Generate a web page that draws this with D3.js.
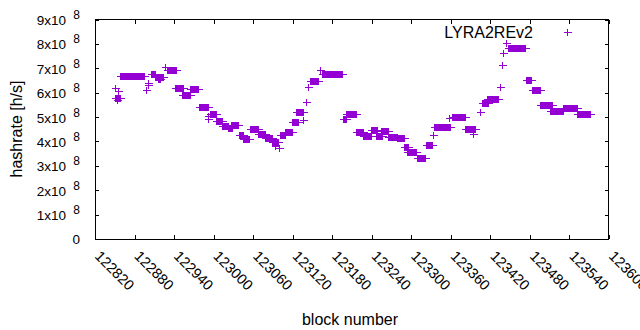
<!DOCTYPE html>
<html>
<head>
<meta charset="utf-8">
<title>hashrate</title>
<script src="https://cdn.jsdelivr.net/npm/d3@7"></script>
<style>
  body { margin: 0; background: #fff; }
  text { font-family: "Liberation Sans", Arial, sans-serif; fill: #000; }
</style>
</head>
<body>
<script>
// runs of blocks with the same estimated hashrate (x10^8 h/s)
var seriesName = "LYRA2REv2";
var runStart = [122850, 122855, 122850, 122853, 122858, 122897, 122900, 122901, 122905, 122911,
                122916, 122926, 122929, 122941, 122952, 122964, 122978, 122991, 122991, 122994,
                123004, 123013, 123022, 123026, 123039, 123045, 123055, 123067, 123078, 123089,
                123093, 123099, 123101, 123108, 123119, 123136, 123125, 123140, 123143, 123146,
                123161, 123164, 123196, 123201, 123216, 123227, 123239, 123246, 123254, 123265,
                123278, 123289, 123293, 123309, 123322, 123333, 123334, 123357, 123362, 123381,
                123394, 123404, 123407, 123415, 123435, 123438, 123439, 123444, 123447, 123474,
                123483, 123495, 123510, 123530, 123551];
var runEnd   = [122850, 122855, 122858, 122853, 122894, 122897, 122900, 122901, 122911, 122923,
                122919, 122926, 122943, 122954, 122964, 122976, 122991, 122991, 122991, 123003,
                123013, 123022, 123028, 123037, 123045, 123054, 123067, 123078, 123089, 123098,
                123093, 123099, 123108, 123119, 123128, 123136, 123136, 123140, 123143, 123158,
                123161, 123195, 123201, 123216, 123227, 123239, 123248, 123256, 123265, 123278,
                123289, 123295, 123307, 123321, 123331, 123333, 123359, 123357, 123381, 123396,
                123394, 123404, 123416, 123432, 123435, 123438, 123439, 123444, 123473, 123482,
                123495, 123513, 123530, 123551, 123571];
var runHash  = [6.19, 6.07, 5.80, 5.70, 6.67, 6.10, 6.30, 6.40, 6.75, 6.65,
                6.56, 7.06, 6.93, 6.18, 5.89, 6.14, 5.40, 5.05, 4.92, 5.12,
                4.85, 4.65, 4.56, 4.66, 4.26, 4.09, 4.50, 4.29, 4.13, 3.99,
                3.80, 3.75, 4.26, 4.37, 4.81, 4.88, 5.19, 5.63, 6.22, 6.48,
                6.93, 6.77, 4.91, 5.11, 4.37, 4.22, 4.47, 4.21, 4.43, 4.17,
                4.13, 3.76, 3.58, 3.31, 3.85, 4.26, 4.59, 4.96, 4.99, 4.50,
                4.29, 5.22, 5.56, 5.73, 6.25, 7.13, 7.64, 8.05, 7.82, 6.52,
                6.11, 5.49, 5.25, 5.36, 5.11];

var xTicks = [122820, 122880, 122940, 123000, 123060, 123120, 123180, 123240, 123300, 123360, 123420, 123480, 123540, 123600];
var yTicks = [0, 1, 2, 3, 4, 5, 6, 7, 8, 9]; // x10^8

var width = 640, height = 330;
var color = '#9400d3';

var svg = d3.select('body')
  .append('svg')
  .attr('width', width)
  .attr('height', height);

var x = d3.scaleLinear().domain([122820, 123600]).range([95, 609]);
var y = d3.scaleLinear().domain([0, 9e8]).range([239, 19.5]);

var points = [];
for (var i = 0; i < runStart.length; i++) {
  for (var b = runStart[i]; b <= runEnd[i]; b++) {
    points.push({block: b, hash: runHash[i] * 1e8});
  }
}

function cross(px, py) {
  px = Math.round(px) + 0.5;
  py = Math.round(py) + 0.5;
  return 'M' + (px - 4) + ',' + py + 'H' + (px + 4) + 'M' + px + ',' + (py - 3.5) + 'V' + (py + 3.5);
}

// ticks (mirrored on all four sides, pointing inwards)
var tk = svg.append('g').attr('stroke', '#000').attr('stroke-width', 1).attr('shape-rendering', 'crispEdges');
xTicks.forEach(function (t) {
  var px = Math.round(x(t)) + 0.5;
  tk.append('line').attr('x1', px).attr('x2', px).attr('y1', 239).attr('y2', 235);
  tk.append('line').attr('x1', px).attr('x2', px).attr('y1', 19.5).attr('y2', 23.5);
});
yTicks.forEach(function (t) {
  var py = Math.round(y(t * 1e8)) + 0.5;
  tk.append('line').attr('x1', 95).attr('x2', 99).attr('y1', py).attr('y2', py);
  tk.append('line').attr('x1', 609).attr('x2', 605).attr('y1', py).attr('y2', py);
});

svg.append('rect')
  .attr('x', 95.5).attr('y', 19.5)
  .attr('width', 513).attr('height', 219.5)
  .attr('fill', 'none')
  .attr('stroke', '#000')
  .attr('shape-rendering', 'crispEdges');

// y tick labels  "Nx10^8"
var yl = svg.append('g').attr('font-size', 13.5);
yTicks.forEach(function (t) {
  var py = y(t * 1e8);
  if (t === 0) {
    yl.append('text').attr('x', 80).attr('y', py + 5).attr('text-anchor', 'end').text('0');
  } else {
    yl.append('text').attr('x', 66).attr('y', py + 5.5).attr('text-anchor', 'end').text(t + 'x10');
    yl.append('text').attr('x', 80).attr('y', py - 0.5).attr('text-anchor', 'end')
      .attr('font-size', 12).text('8');
  }
});

// x tick labels, rotated
svg.append('g').attr('font-size', 14.5)
  .selectAll('text')
  .data(xTicks)
  .enter()
  .append('text')
  .attr('transform', function (d) { return 'translate(' + (x(d) - 1) + ',257) rotate(45)'; })
  .text(function (d) { return d; });

svg.append('text')
  .attr('transform', 'translate(21.5,129) rotate(-90)')
  .attr('text-anchor', 'middle')
  .attr('font-size', 16)
  .text('hashrate [h/s]');

svg.append('text')
  .attr('x', 350).attr('y', 325)
  .attr('text-anchor', 'middle')
  .attr('font-size', 16)
  .text('block number');

// data
svg.append('g')
  .attr('stroke', color)
  .attr('stroke-width', 1)
  .attr('fill', 'none')
  .attr('shape-rendering', 'crispEdges')
  .selectAll('path')
  .data(points)
  .enter()
  .append('path')
  .attr('d', function (d) { return cross(x(d.block), y(d.hash)); });

// legend
svg.append('text')
  .attr('x', 533).attr('y', 37.5)
  .attr('text-anchor', 'end')
  .attr('font-size', 16)
  .text(seriesName);
svg.append('path')
  .attr('d', cross(567, 32))
  .attr('stroke', color)
  .attr('fill', 'none')
  .attr('shape-rendering', 'crispEdges');
</script>
</body>
</html>
